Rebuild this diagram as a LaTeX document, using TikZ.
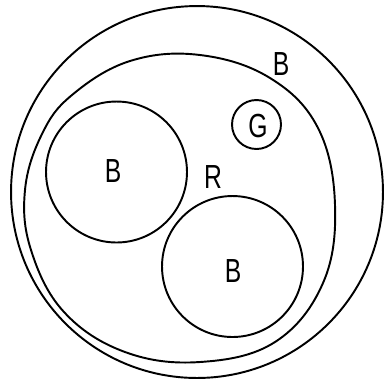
\documentclass[tikz,border=0pt]{standalone}
\usepackage{graphicx}
\usepackage{fontspec}
\setmainfont{Liberation Sans}
\newcommand{\ltr}[1]{\scalebox{0.74}[1]{\fontsize{19}{19}\selectfont #1}}
\begin{document}
\begin{tikzpicture}[x=0.02cm,y=-0.02cm,
  ring/.style={draw,circle,line width=1.1pt,inner sep=0pt},
  lbl/.style={inner sep=0pt},
  line width=1.1pt]
\useasboundingbox (0,0) rectangle (391,380);
\node[ring,minimum size=7.44cm] (outer) at (197,192) {};
% region R
\draw plot[smooth cycle,tension=0.65] coordinates {
 (72,95) (130,61) (200,55) (270,78) (318,128) (335,205) (323,283)
 (275,342) (200,362) (125,352) (64,312) (31,250) (25,190) (42,134)};
\node[ring,minimum size=2.82cm] (lb) at (116.5,172) {};
\node[ring,minimum size=2.82cm] (rb) at (232.5,266.5) {};
\node[ring,minimum size=0.98cm] (g) at (256.5,124.5) {};
\node[lbl] (lbl1) at (113,171) {\ltr{B}};
\node[lbl] (lbl2) at (233,271) {\ltr{B}};
\node[lbl] (gl) at (258,126) {\ltr{G}};
\node[lbl] (bt) at (281,64) {\ltr{B}};
\node[lbl] (r) at (213,177) {\ltr{R}};
\end{tikzpicture}
\end{document}
